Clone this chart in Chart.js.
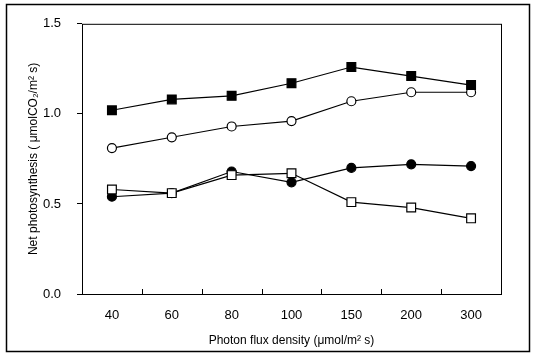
<!DOCTYPE html>
<html><head><meta charset="utf-8">
<script src="https://cdn.jsdelivr.net/npm/chart.js@4/dist/chart.umd.min.js"></script>
<style>html,body{margin:0;padding:0;background:#fff}#wrap{width:536px;height:354px;position:relative}</style>
</head><body><div id="wrap"><canvas id="c" width="536" height="354"></canvas></div>
<script>
const categories = ["40","60","80","100","150","200","300"];
const filledSquares = [1.02,1.08,1.10,1.17,1.26,1.21,1.16];
const openCircles = [0.81,0.87,0.93,0.96,1.07,1.12,1.12];
const filledCircles = [0.54,0.56,0.68,0.62,0.70,0.72,0.71];
const openSquares = [0.58,0.56,0.66,0.67,0.51,0.48,0.42];
const yTicks = [0,0.5,1.0,1.5];

const boxPlugin = {
  id:'box',
  afterDraw(chart){
    const {ctx, chartArea:a, scales:{x}} = chart;
    ctx.save();
    ctx.strokeStyle='#000';
    ctx.lineWidth=1.5;
    ctx.strokeRect(6.5,4.5,523,347);
    ctx.lineWidth=1;
    ctx.strokeRect(a.left+0.5,a.top+0.5,a.right-a.left,a.bottom-a.top);
    ctx.beginPath();
    for(let i=0;i<categories.length-1;i++){
      const px=Math.round((x.getPixelForValue(i)+x.getPixelForValue(i+1))/2)+0.5;
      ctx.moveTo(px,a.bottom);ctx.lineTo(px,a.bottom-5);
    }
    ctx.stroke();
    ctx.restore();
  }
};

const ds=(data,style,fill,r)=>({data,borderColor:'#000',borderWidth:1.2,pointStyle:style,
  pointRadius:r,pointHoverRadius:r,pointBackgroundColor:fill,pointBorderColor:'#000',pointBorderWidth:1.2,tension:0});

new Chart(document.getElementById('c'),{
  type:'line',
  data:{labels:categories,datasets:[
    ds(filledSquares,'rect','#000',6.2),
    ds(openCircles,'circle','#fff',4.5),
    ds(openSquares,'rect','#fff',6.2),
    ds(filledCircles,'circle','#000',4.5)
  ]},
  options:{
    responsive:false,animation:false,
    layout:{padding:{left:26,right:35,top:19,bottom:6}},
    plugins:{legend:{display:false},tooltip:{enabled:false}},
    scales:{
      x:{offset:true,grid:{display:false},border:{display:false},
        ticks:{color:'#000',font:{family:'Liberation Sans',size:13},padding:6},
        title:{display:true,text:'Photon flux density (μmol/m² s)',color:'#000',font:{family:'Liberation Sans',size:12},padding:{top:4,bottom:0}}},
      y:{min:0,max:1.5,
        afterBuildTicks(s){s.ticks=yTicks.map(v=>({value:v}));},
        afterFit(s){s.width=56;},
        grid:{drawOnChartArea:false,tickLength:5,color:'#000'},border:{display:false},
        ticks:{color:'#000',font:{family:'Liberation Sans',size:13},padding:16,callback:v=>v.toFixed(1)},
        title:{display:true,text:'Net photosynthesis ( μmolCO₂/m² s)',color:'#000',font:{family:'Liberation Sans',size:12},padding:{top:0,bottom:0}}}
    }
  },
  plugins:[boxPlugin]
});
</script></body></html>
